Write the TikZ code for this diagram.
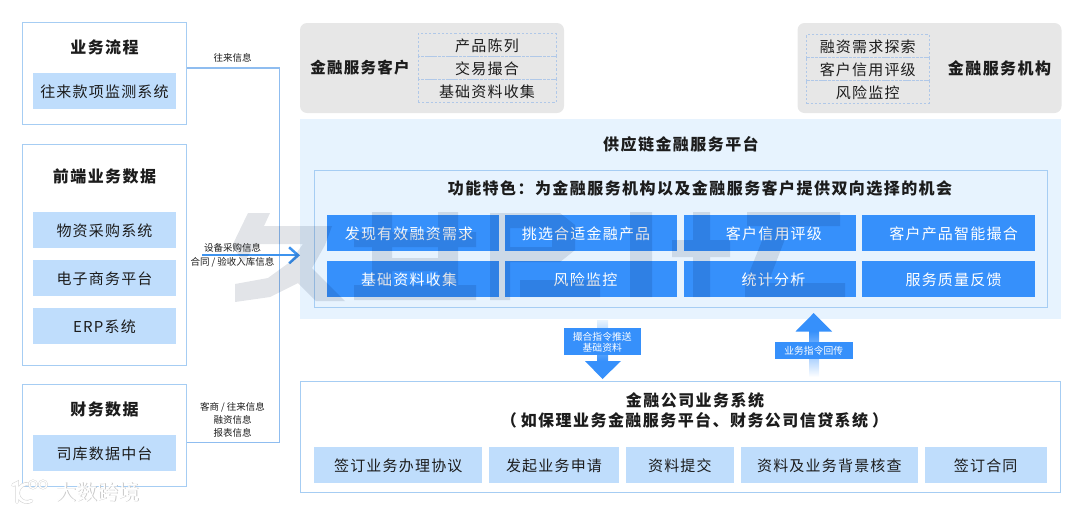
\documentclass[tikz,border=0pt]{standalone}
\usepackage{fontspec}
\setmainfont[LetterSpace=8]{Noto Sans CJK SC}
\newfontfamily\plaincjk{Noto Sans CJK SC}
\newfontfamily\titlefam[LetterSpace=9]{Noto Sans CJK SC}
\usetikzlibrary{arrows.meta,shadings}
\definecolor{btnblue}{HTML}{3690FB}
\definecolor{lightbtn}{HTML}{BFDDFC}
\definecolor{framec}{HTML}{A6CDF3}
\definecolor{trunkc}{HTML}{8FBDF0}
\definecolor{arrowc}{HTML}{3E93EE}
\definecolor{panel}{HTML}{E7F3FE}
\definecolor{greybox}{HTML}{E7E7E7}
\definecolor{dashc}{HTML}{B0C8E8}
\definecolor{ink}{HTML}{1C1C1C}
\definecolor{wm}{HTML}{E2E4E8}
\newcommand{\tshift}[2]{\hspace*{#1}\hspace*{#1}#2}
\tikzset{
  box/.style={inner sep=0pt,outer sep=0pt,text=ink,text height=12.8pt,text depth=0pt,font=\fontsize{15}{18}\selectfont},
  frame/.style={box,draw=framec,line width=1pt,fill=white},
  lightb/.style={box,fill=lightbtn,minimum height=36pt},
  blueb/.style={box,fill=btnblue,text=white,minimum height=36pt},
  greyb/.style={box,fill=greybox,rounded corners=7pt},
  dashrow/.style={box,draw=dashc,line width=.8pt,dash pattern=on 2.2pt off 2pt,minimum height=23pt},
  title/.style={inner sep=0pt,text=ink,font=\titlefam\fontsize{16}{20}\selectfont\bfseries},
  subtitle/.style={inner sep=0pt,text=ink,font=\fontsize{15.5}{20}\selectfont\bfseries},
  small/.style={inner sep=0pt,text=ink,align=center,font=\plaincjk\fontsize{9.5}{13.2}\selectfont},
  tag/.style={inner sep=0pt,outer sep=0pt,fill=btnblue,text=white,align=center,text depth=0pt,font=\plaincjk\fontsize{9.8}{11}\selectfont},
  trunk/.style={draw=trunkc,line width=1.5pt},
  flowarrow/.style={draw=arrowc,line width=1.7pt,-{Straight Barb[length=9pt,width=16pt,line width=2.5pt]}},
  wmshape/.style={fill=wm,blend mode=multiply},
}
\begin{document}
\begin{tikzpicture}[x=1pt,y=-1pt]
\useasboundingbox (0,0) rectangle (1080,512);
% panels
\node[greyb,minimum width=264pt,minimum height=90pt] (cust) at (432,68) {};
\node[greyb,minimum width=264pt,minimum height=90pt] (inst) at (929.5,68) {};
\node[box,fill=panel,minimum width=761pt,minimum height=200pt] (plat) at (680.5,219) {};
\node[box,draw=framec,line width=1pt,minimum width=732.5pt,minimum height=137pt] (feat) at (680.75,238.5) {};
\node[frame,minimum width=760.5pt,minimum height=111.5pt] (bank) at (680.25,436.75) {};
% left frames
\node[frame,minimum width=164pt,minimum height=102pt] (flow) at (104.5,73.5) {};
\node[frame,minimum width=164pt,minimum height=221pt] (front) at (104.5,254.5) {};
\node[frame,minimum width=164pt,minimum height=102pt] (fin) at (104.5,435.7) {};
\node[title] (flowt) at (104.5,47.5) {业务流程};
\node[title] (frontt) at (104.5,176) {前端业务数据};
\node[title] (fint) at (104.5,409) {财务数据};
\node[lightb,minimum width=143pt] (l1) at (104.5,91) {往来款项监测系统};
\node[lightb,minimum width=143pt] (l2) at (104.5,230) {物资采购系统};
\node[lightb,minimum width=143pt] (l3) at (104.5,278) {电子商务平台};
\node[lightb,minimum width=143pt] (l4) at (104.5,326) {ERP系统};
\node[lightb,minimum width=143pt] (l5) at (104.5,453) {司库数据中台};
% connectors
\coordinate (flowout) at (flow.east |- 0,68);
\coordinate (finout) at (fin.east |- 0,442.5);
\coordinate (arrowstart) at (202,255.3);
\draw[trunk] (flowout) -- (279.5,68) -- (279.5,442.5) -- (finout);
\draw[flowarrow] (arrowstart) -- (plat.west |- arrowstart);
\node[small] (e1) at (232.5,58) {往来信息};
\node[small] (e2) at (232.5,255) {设备采购信息\\[1pt]合同 / 验收入库信息};
\node[small] (e3) at (232.5,420) {客商 / 往来信息\\融资信息\\报表信息};
% customers
\node[subtitle] (custt) at (360,68) {金融服务客户};
\node[dashrow,minimum width=138pt] (c1) at (487,45) {产品陈列};
\node[dashrow,minimum width=138pt] (c2) at (487,68) {交易撮合};
\node[dashrow,minimum width=138pt] (c3) at (487,91) {基础资料收集};
\node[title] (instt) at (999.5,68) {金融服务机构};
\node[dashrow,minimum width=122.5pt] (i1) at (867.75,46) {融资需求探索};
\node[dashrow,minimum width=122.5pt] (i2) at (867.75,69) {客户信用评级};
\node[dashrow,minimum width=122.5pt] (i3) at (867.75,92) {风险监控};
% platform
\node[title] (platt) at (681,144) {供应链金融服务平台};
\node[title] (featt) at (700,188) {功能特色：为金融服务机构以及金融服务客户提供双向选择的机会};
\node[blueb,minimum width=172.5pt] (b1) at (412.75,233) {\tshift{-3.75pt}{发现有效融资需求}};
\node[blueb,minimum width=172pt] (b2) at (591,233) {\tshift{-5pt}{挑选合适金融产品}};
\node[blueb,minimum width=172.5pt] (b3) at (769.75,233) {\tshift{4.2pt}{客户信用评级}};
\node[blueb,minimum width=172.5pt] (b4) at (948.25,233) {\tshift{5.3pt}{客户产品智能撮合}};
\node[blueb,minimum width=172.5pt] (b5) at (412.75,279) {\tshift{-3.75pt}{基础资料收集}};
\node[blueb,minimum width=172pt] (b6) at (591,279) {\tshift{-5.5pt}{风险监控}};
\node[blueb,minimum width=172.5pt] (b7) at (769.75,279) {\tshift{3.75pt}{统计分析}};
\node[blueb,minimum width=172.5pt] (b8) at (948.25,279) {\tshift{5.3pt}{服务质量反馈}};
% big watermark
\fill[wmshape]
  (248,213) -- (270,213) -- (264,226) -- (332,226) -- (325,245) -- (312,268) -- (345,301) -- (316,301) -- (298,283) -- (270,297) -- (235,302) -- (235,284) -- (268,278) -- (290,262) -- (303,244) -- (256,244) -- (244,262) -- (232,246) -- cycle
  (372,212) rectangle (392,300)
  (438,212) rectangle (458,300)
  (354,232) rectangle (476,247)
  (392,258) rectangle (438,271)
  (354,285) rectangle (476,300)
  (490,213) rectangle (510,300)
  (510,213) rectangle (552,228)
  (552,213) -- (560,213) -- (575,225) -- (575,250) -- (560,262) -- (552,262) -- cycle
  (510,247) rectangle (552,262)
  (520,280) rectangle (600,297)
  (630,212) rectangle (652,297)
  (693,212) rectangle (710,297)
  (672,240) rectangle (730,257)
  (747,212) -- (840,212) -- (840,226) -- (790,226) -- (768,283) -- (845,283) -- (845,297) -- (745,297) -- (745,283) -- (768,226) -- (747,226) -- cycle;
% exchange arrows
\shade[top color=panel,bottom color=btnblue] (597,320) rectangle (608,361);
\fill[btnblue] (585,361) -- (621,361) -- (602.5,379) -- cycle;
\node[tag,minimum width=77.5pt,minimum height=27pt] (down) at (602.25,341.5) {撮合指令推送\\基础资料};
\shade[top color=btnblue,bottom color=white] (809,331) rectangle (819,377);
\fill[btnblue] (813.7,313) -- (832,331.5) -- (795.5,331.5) -- cycle;
\node[tag,minimum width=78.5pt,minimum height=16.5pt] (up) at (813.75,350.5) {业务指令回传};
% bank
\node[title] (bankt) at (695,400) {金融公司业务系统};
\node[title] (bankt2) at (694.5,420) {（\hspace{4pt}如保理业务金融服务平台、财务公司信贷系统\hspace{4pt}）};
\node[lightb,minimum width=168pt] (s1) at (398.3,465) {签订业务办理协议};
\node[lightb,minimum width=130pt] (s2) at (554,465) {发起业务申请};
\node[lightb,minimum width=108.5pt] (s3) at (679.9,465) {资料提交};
\node[lightb,minimum width=177.5pt] (s4) at (829.4,465) {资料及业务背景核查};
\node[lightb,minimum width=122pt] (s5) at (985.7,465) {签订合同};
% logo watermark
\begin{scope}[line cap=round]
\draw[draw=black!16,line width=3.8pt] (13,485) -- (17,483) -- (17,502) (29.3,484.3) arc[start angle=-75,end angle=-300,radius=9];
\draw[draw=white,line width=2.6pt] (13,485) -- (17,483) -- (17,502) (29.3,484.3) arc[start angle=-75,end angle=-300,radius=9];
\draw[line width=2pt,draw=black!16] (33,484.5) circle[radius=4] (43,484.5) circle[radius=4];
\draw[line width=1.1pt,draw=white] (33,484.5) circle[radius=4] (43,484.5) circle[radius=4];
\end{scope}
\node[inner sep=0pt,text=black!22,font=\plaincjk\fontsize{21}{24}\selectfont] (logos) at (98.5,492.6) {大数跨境};
\node[inner sep=0pt,text=white,font=\plaincjk\fontsize{21}{24}\selectfont] (logot) at (98,492) {大数跨境};
\end{tikzpicture}
\end{document}
